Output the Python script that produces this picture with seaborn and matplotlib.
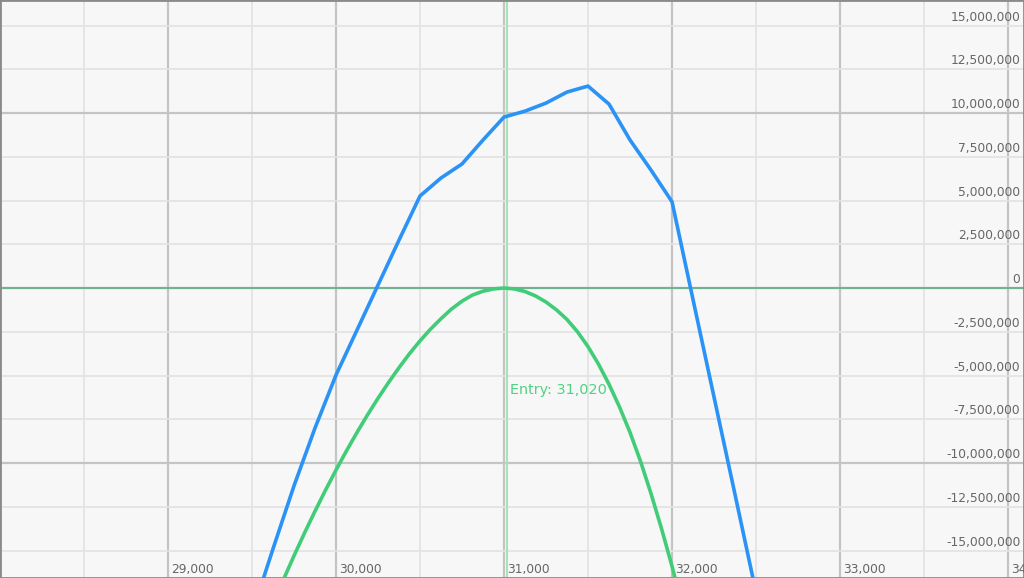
import numpy as np
import pandas as pd
import seaborn as sns
import matplotlib.pyplot as plt
from matplotlib.ticker import MultipleLocator
import matplotlib.transforms as mtransforms

# blue line, price step 125
blue_price = [29500, 29625, 29750, 29875, 30000, 30125, 30250, 30375, 30500,
              30625, 30750, 30875, 31000, 31125, 31250, 31375, 31500, 31625,
              31750, 31875, 32000, 32125, 32250, 32375, 32500]
blue_pnl = [-18.6e6, -14.9e6, -11.3e6, -8.0e6, -4.97e6, -2.4e6, 0.17e6, 2.74e6, 5.26e6,
            6.29e6, 7.09e6, 8.46e6, 9.77e6, 10.11e6, 10.57e6, 11.2e6, 11.54e6, 10.51e6,
            8.46e6, 6.74e6, 4.93e6, -0.66e6, -6.23e6, -11.8e6, -17.4e6]

# green curve, price step 62.5
green_price = [29687.5, 29750, 29812.5, 29875, 29937.5, 30000, 30062.5, 30125,
               30187.5, 30250, 30312.5, 30375, 30437.5, 30500, 30562.5, 30625,
               30687.5, 30750, 30812.5, 30875, 30937.5, 31000, 31062.5, 31125,
               31187.5, 31250, 31312.5, 31375, 31437.5, 31500, 31562.5, 31625,
               31687.5, 31750, 31812.5, 31875, 31937.5, 32000, 32062.5]
green_pnl = [-16.65e6, -15.3e6, -14.0e6, -12.75e6, -11.55e6, -10.4e6, -9.3e6, -8.25e6,
             -7.25e6, -6.3e6, -5.4e6, -4.55e6, -3.75e6, -3.02e6, -2.35e6, -1.75e6,
             -1.2e6, -0.75e6, -0.4e6, -0.18e6, -0.05e6, 0.0, -0.05e6, -0.2e6,
             -0.45e6, -0.8e6, -1.25e6, -1.8e6, -2.5e6, -3.35e6, -4.35e6, -5.5e6,
             -6.8e6, -8.25e6, -9.9e6, -11.75e6, -13.75e6, -15.9e6, -18.2e6]

entry_price = 31020
x_ticks = [29000, 30000, 31000, 32000, 33000, 34000]
y_ticks = [15e6, 12.5e6, 10e6, 7.5e6, 5e6, 2.5e6, 0, -2.5e6, -5e6, -7.5e6,
           -10e6, -12.5e6, -15e6]

blue = pd.DataFrame({"price": blue_price, "pnl": blue_pnl})
green = pd.DataFrame({"price": green_price, "pnl": green_pnl})

sns.set_style("white")
plt.rcParams["font.family"] = ["DejaVu Sans"]

fig = plt.figure(figsize=(10.24, 5.78), dpi=100)
ax = fig.add_axes([0, 0, 1, 1])
ax.set_facecolor("#f7f7f7")

ax.set_xlim(28000, 34095)
ax.set_ylim(-16.57e6, 16.46e6)

ax.xaxis.set_major_locator(MultipleLocator(1000))
ax.xaxis.set_minor_locator(MultipleLocator(500))
ax.yaxis.set_major_locator(MultipleLocator(10e6))
ax.yaxis.set_minor_locator(MultipleLocator(2.5e6))
ax.grid(which="minor", color="#e4e4e4", lw=1.3)
ax.grid(which="major", color="#c4c4c4", lw=1.6)
ax.set_axisbelow(True)
ax.tick_params(which="both", length=0, labelbottom=False, labelleft=False)

for s in ax.spines.values():
    s.set_color("#8a8a8a")
    s.set_linewidth(2)

ax.axhline(0, color="#6fb393", lw=1.5, zorder=1)
ax.axvline(entry_price, color="#a6e3b6", lw=1.5, zorder=1)

sns.lineplot(data=blue, x="price", y="pnl", ax=ax, color="#2a93f5", lw=2.6, zorder=3)
sns.lineplot(data=green, x="price", y="pnl", ax=ax, color="#41cc78", lw=2.6, zorder=3)

ax.text(entry_price, -5.83e6, f"Entry: {entry_price:,}", color="#52d184",
        fontsize=10.4, va="center", ha="left",
        transform=ax.transData + mtransforms.ScaledTranslation(3 / 100, 0, fig.dpi_scale_trans))

ytrans = mtransforms.blended_transform_factory(ax.transAxes, ax.transData)
for v in y_ticks:
    ax.text(0.9965, v, f"{v:,.0f}", color="#666666", fontsize=8.8,
            ha="right", va="bottom", transform=ytrans + mtransforms.ScaledTranslation(0, 2 / 100, fig.dpi_scale_trans))

xtrans = mtransforms.blended_transform_factory(ax.transData, ax.transAxes)
for v in x_ticks:
    ax.text(v, 0.004, f"{v:,}", color="#666666", fontsize=8.8,
            ha="left", va="bottom", transform=xtrans + mtransforms.ScaledTranslation(3 / 100, 0, fig.dpi_scale_trans))

ax.set_xlabel("")
ax.set_ylabel("")
fig.savefig("out.png", dpi=100)
